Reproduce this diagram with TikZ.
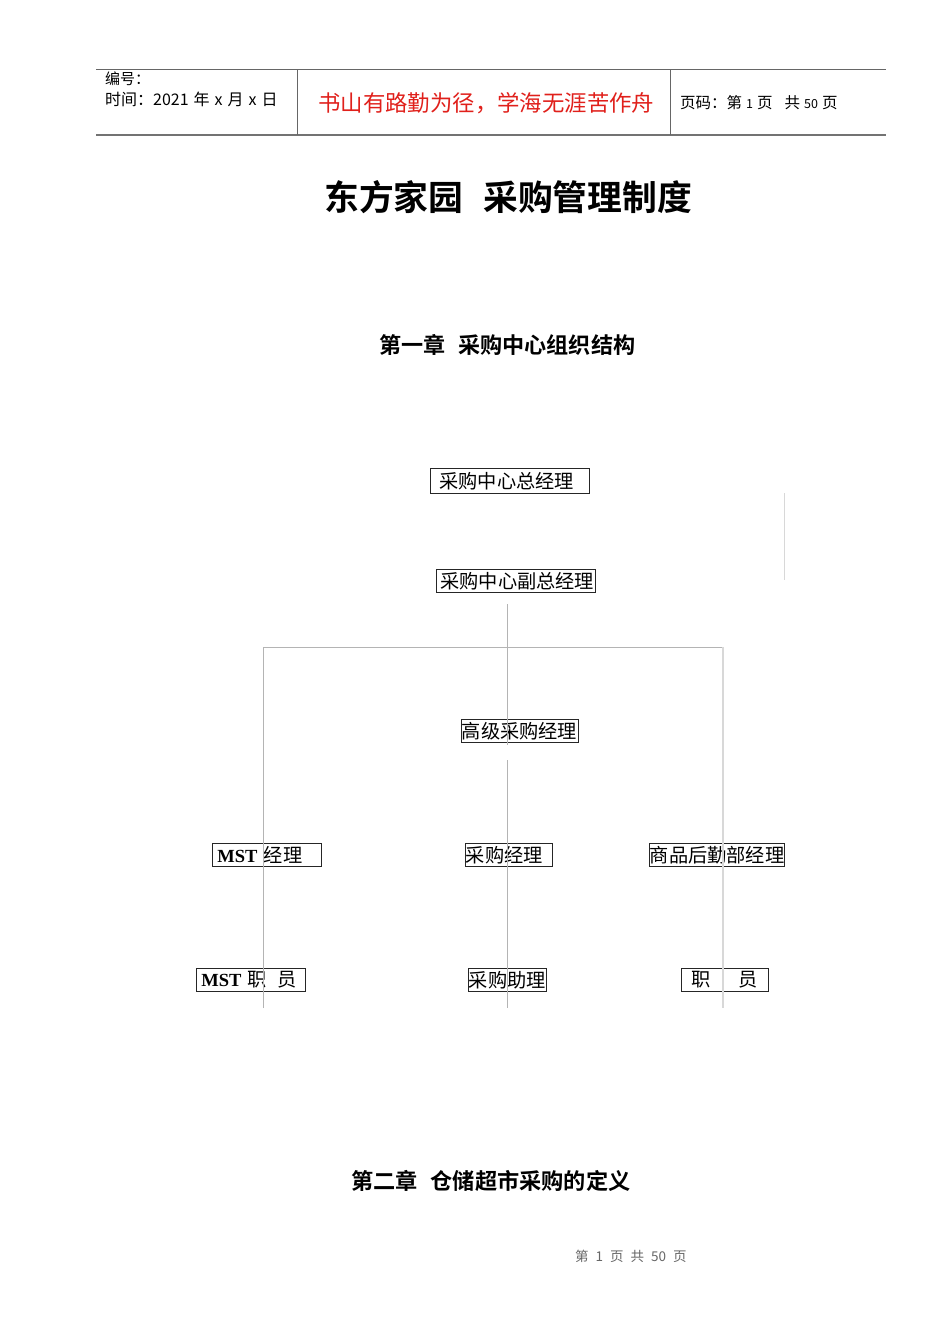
\documentclass[tikz,border=0pt]{standalone}
\usepackage{fontspec}
\setmainfont{Liberation Serif}
\newfontfamily\cjk{Noto Sans CJK SC}
\newfontfamily\cjkb{Noto Sans CJK SC Bold}
\definecolor{lineg}{HTML}{B4B4B4}
\definecolor{lineL}{HTML}{D8D8D8}
\definecolor{hdr}{HTML}{666666}
\definecolor{redtxt}{HTML}{E0201B}
\tikzset{
  orgbox/.style={draw=black!85, line width=0.8pt, inner sep=0pt, anchor=north west,
    minimum height=23pt, align=left, font=\cjk\fontsize{19.2}{19.5}\selectfont},
  link/.style={draw=lineg, line width=0.8pt},
  hline/.style={draw=hdr, line width=0.9pt},
  plain/.style={inner sep=0pt, anchor=west},
}
\newcommand{\mst}{{\rmfamily\bfseries\fontsize{18.5}{19}\selectfont MST}}
\begin{document}
\begin{tikzpicture}[x=1pt,y=-1pt]
\useasboundingbox (0,0) rectangle (950,1344);
% header
\coordinate (h1) at (96,69); \coordinate (h2) at (886,69);
\coordinate (b1) at (96,135); \coordinate (b2) at (886,135);
\coordinate (v1t) at (297,69); \coordinate (v1b) at (297,135);
\coordinate (v2t) at (670,69); \coordinate (v2b) at (670,135);
\draw[hline] (h1) -- (h2);
\draw[draw=black!55, line width=1.6pt] (b1) -- (b2);
\draw[hline] (v1t) -- (v1b);
\draw[hline] (v2t) -- (v2b);
\node[plain, font=\cjk\fontsize{15}{15}\selectfont] (num) at (105,79) {编号：};
\node[plain, font=\cjk\fontsize{16}{16}\selectfont] (time) at (105,99) {时间：2021\hspace{5pt}年\hspace{5pt}x\hspace{5pt}月\hspace{5pt}x\hspace{5pt}日};
\node[plain, font=\cjk\fontsize{22.4}{23}\selectfont, text=redtxt] (motto) at (318,103) {书山有路勤为径，学海无涯苦作舟};
\node[plain, font=\cjk\fontsize{15.5}{16}\selectfont] (page) at (680,103) {页码：第\hspace{4pt}{\fontsize{12.5}{13}\selectfont 1}\hspace{4pt}页\hspace{12pt}共\hspace{4pt}{\fontsize{12.5}{13}\selectfont 50}\hspace{4pt}页};
% titles
\node[plain, font=\cjkb\fontsize{34.8}{35}\selectfont] (title) at (324,197) {东方家园\hspace{20pt}采购管理制度};
\node[plain, font=\cjkb\fontsize{22.1}{23}\selectfont] (ch1) at (379,345) {第一章\hspace{13pt}采购中心组织结构};
\node[plain, font=\cjkb\fontsize{22.2}{23}\selectfont] (ch2) at (351,1181) {第二章\hspace{13pt}仓储超市采购的定义};
\node[plain, font=\cjk\fontsize{13.5}{14}\selectfont, text=black!60] (foot) at (575,1256) {第\hspace{7pt}1\hspace{7pt}页\hspace{7pt}共\hspace{7pt}50\hspace{7pt}页};
% boxes
\node[orgbox, minimum height=25pt, text width=159pt] (gm) at (430,468) {\hspace*{9pt}采购中心总经理};
\node[orgbox, text width=159pt] (dgm) at (436,569) {\hspace*{4pt}采购中心副总经理};
\node[orgbox, text width=117pt] (sm) at (461,719) {\hspace*{0.5pt}高级采购经理};
\node[orgbox, text width=109pt] (mstm) at (212,843) {\hspace*{5pt}\mst\ 经理};
\node[orgbox, text width=87pt] (pm) at (465,843) {\hspace*{0.5pt}采购经理};
\node[orgbox, text width=135pt] (lm) at (649,843) {\hspace*{0.5pt}商品后勤部经理};
\node[orgbox, text width=109pt] (msts) at (196,968) {\hspace*{5pt}\mst\ 职\hspace{10pt}员};
\node[orgbox, text width=78pt] (pa) at (468,968) {\hspace*{0.5pt}采购助理};
\node[orgbox, text width=87pt] (ls) at (681,968) {\hspace*{10pt}职\hspace{28pt}员};
% connector lines
\coordinate (c0) at (507,604);
\coordinate (c1) at (507,745);
\coordinate (c2) at (507,760);
\coordinate (c3) at (507,1008);
\coordinate (l0) at (263,647);
\coordinate (l1) at (263,1008);
\coordinate (r0) at (723,647);
\coordinate (r1) at (723,1008);
\coordinate (s0) at (784,493);
\coordinate (s1) at (784,580);
\draw[link] (c0) -- (c1);
\draw[link] (c2) -- (c3);
\draw[link] (l1) -- (l0) -- (r0);
\draw[draw=lineL, line width=1.2pt] (r0) -- (r1);
\draw[draw=lineL, line width=1pt] (s0) -- (s1);
\end{tikzpicture}
\end{document}
